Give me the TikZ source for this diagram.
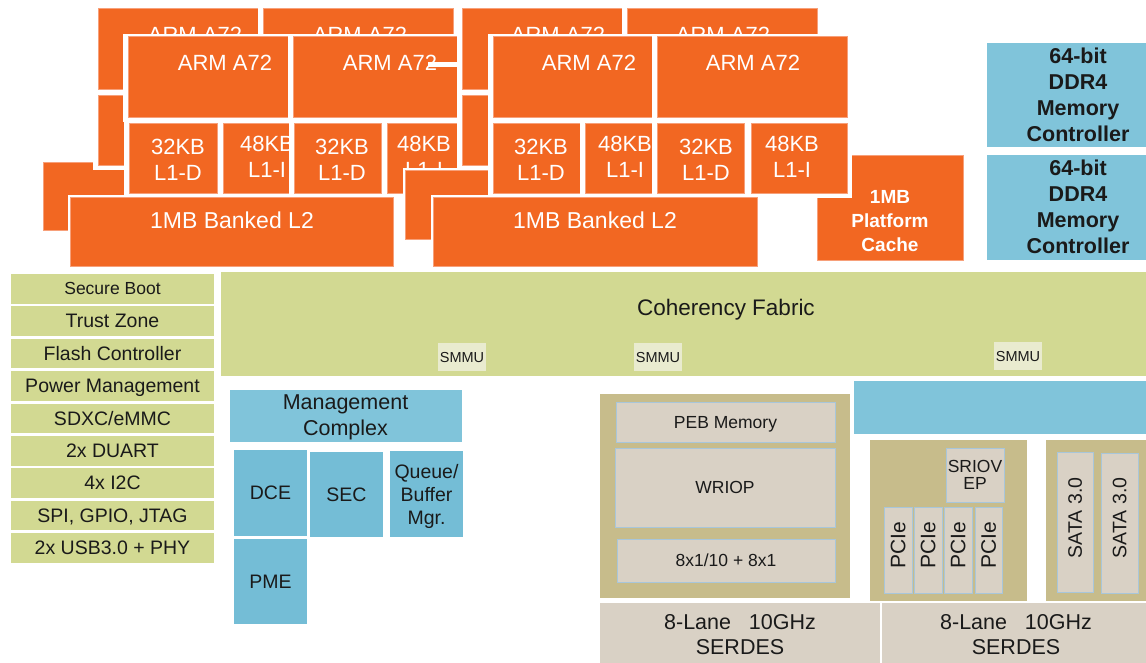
\documentclass[tikz,border=0pt]{standalone}
\usepackage{fontspec}
\setmainfont{Liberation Sans}
\definecolor{org}{HTML}{F26722}
\definecolor{orgl}{HTML}{F7A07A}
\definecolor{grn}{HTML}{D2D992}
\definecolor{smmuc}{HTML}{E9EBCF}
\definecolor{blu}{HTML}{80C4DA}
\definecolor{blu2}{HTML}{74BDD6}
\definecolor{tanc}{HTML}{C7BC8B}
\definecolor{gry}{HTML}{D9D1C5}
\definecolor{gryb}{HTML}{A8C6DA}
\definecolor{ink}{HTML}{1A1A1A}
\tikzset{
  obox/.style={rectangle, inner sep=0pt, outer sep=0pt, fill=org, draw=orgl, line width=0.8pt},
  otx/.style={text=white, inner sep=0pt, align=center, text depth=0pt},
  f22/.style={font=\fontsize{22}{26}\selectfont},
  f23/.style={font=\fontsize{23}{27}\selectfont},
  base/.style={rectangle, inner sep=0pt, outer sep=0pt, align=center, text=ink, text depth=0pt},
  gbox/.style={base, fill=grn, font=\fontsize{19.5}{23}\selectfont},
  smmu/.style={base, fill=smmuc, font=\fontsize{14.5}{17}\selectfont},
  mcbox/.style={base, fill=blu, draw=white, line width=0.8pt, font=\bfseries\fontsize{21.5}{26}\selectfont},
  mgbox/.style={base, fill=blu, draw=white, line width=0.8pt, font=\fontsize{21.5}{26}\selectfont},
  b2box/.style={base, fill=blu2, font=\fontsize{19.5}{23}\selectfont},
  tanbox/.style={base, fill=tanc},
  gybox/.style={base, fill=gry, draw=gryb, line width=0.8pt, font=\fontsize{17.5}{17}\selectfont},
  sdbox/.style={base, fill=gry, font=\fontsize{21.5}{25}\selectfont},
  rtx/.style={base, rotate=90},
}
\newcommand\ob[6][5]{%
  \fill[white] (#3-#1,#4-2) rectangle (#5+#1,#6+#1);
  \node[obox, minimum width={#5-#3}, minimum height={#6-#4}] (#2) at ({(#3+#5)/2},{(#4+#6)/2}) {};
}
\newcommand\bx[7][]{%
  \node[#1, minimum width={#5-#3}, minimum height={#6-#4}] (#2) at ({(#3+#5)/2},{(#4+#6)/2}) {#7};
}
\begin{document}
\begin{tikzpicture}[x=1pt,y=-1pt]
\clip (0,0) rectangle (1146,662);
\useasboundingbox (0,0) rectangle (1146,662);
\fill[white] (0,0) rectangle (1146,662);

% ---------- cluster 1, back layer
\ob{c1bA1}{98}{8}{288}{89}   \node[otx,f22] (c1bA1t) at (195,35) {ARM A72};
\ob{c1bA2}{263}{8}{453}{89}  \node[otx,f22] (c1bA2t) at (360,35) {ARM A72};
\ob[2]{c1bL2}{43}{162}{366}{230}
\ob{c1bD1}{98}{95}{185}{165}
% ---------- cluster 1, front layer
\ob{c1fA1}{128}{36}{318}{117} \node[otx,f22] (c1fA1t) at (225,63) {ARM A72};
\ob{c1fA2}{293}{36}{483}{117} \node[otx,f22] (c1fA2t) at (390,63) {ARM A72};
\ob{c1fD1}{129}{123}{217}{193} \node[otx,f22] (c1fD1t) at (178,159.5) {32KB\\L1-D};
\ob{c1fI1}{223}{123}{311}{193} \node[otx,f22] (c1fI1t) at (267,157) {48KB\\L1-I};
\ob{c1fD2}{294}{123}{381}{193} \node[otx,f22] (c1fD2t) at (342,159.5) {32KB\\L1-D};
\ob{c1fI2}{387}{123}{475}{193} \node[otx,f22] (c1fI2t) at (424,157) {48KB\\L1-I};
\ob[2]{c1fL2}{70}{197}{393}{266} \node[otx,f23] (c1fL2t) at (232,220) {1MB Banked L2};
\node[fill=white, inner sep=0pt, minimum width=29, minimum height=4.5] (art) at (442.5,64.5) {};
% ---------- platform cache
\ob{pc}{817}{155}{963}{260}
\node[otx, font=\bfseries\fontsize{19}{24}\selectfont] (pct) at (890,221) {1MB\\Platform\\Cache};
% ---------- cluster 2, back layer
\ob{c2bA1}{462}{8}{652}{89}  \node[otx,f22] (c2bA1t) at (558,35) {ARM A72};
\ob{c2bA2}{627}{8}{817}{89}  \node[otx,f22] (c2bA2t) at (723,35) {ARM A72};
\ob[2]{c2bL2}{405}{170}{728}{239}
\ob{c2bD1}{462}{95}{549}{165}
% ---------- cluster 2, front layer
\ob{c2fA1}{493}{36}{683}{117} \node[otx,f22] (c2fA1t) at (589,63) {ARM A72};
\ob{c2fA2}{657}{36}{847}{117} \node[otx,f22] (c2fA2t) at (753,63) {ARM A72};
\ob{c2fD1}{493}{123}{580}{193} \node[otx,f22] (c2fD1t) at (541,159.5) {32KB\\L1-D};
\ob{c2fI1}{585}{123}{673}{193} \node[otx,f22] (c2fI1t) at (625,157) {48KB\\L1-I};
\ob{c2fD2}{657}{123}{744}{193} \node[otx,f22] (c2fD2t) at (706,159.5) {32KB\\L1-D};
\ob{c2fI2}{751}{123}{847}{193} \node[otx,f22] (c2fI2t) at (792,157) {48KB\\L1-I};
\ob[2]{c2fL2}{433}{197}{757}{266} \node[otx,f23] (c2fL2t) at (595,220) {1MB Banked L2};

% ---------- memory controllers
\bx[mcbox]{mc1}{986}{42}{1170}{147}{64-bit\\DDR4\\Memory\\Controller}
\bx[mcbox]{mc2}{986}{154}{1170}{260}{64-bit\\DDR4\\Memory\\Controller}

% ---------- left column
\bx[gbox, font=\fontsize{17.5}{20}\selectfont]{g1}{11}{274}{214}{303.5}{Secure Boot}
\bx[gbox]{g2}{11}{306.4}{214}{335.9}{Trust Zone}
\bx[gbox]{g3}{11}{338.8}{214}{368.3}{Flash Controller}
\bx[gbox]{g4}{11}{371.2}{214}{400.7}{Power Management}
\bx[gbox]{g5}{11}{403.6}{214}{433.1}{SDXC/eMMC}
\bx[gbox]{g6}{11}{436}{214}{465.5}{2x DUART}
\bx[gbox]{g7}{11}{468.4}{214}{497.9}{4x I2C}
\bx[gbox]{g8}{11}{500.8}{214}{530.3}{SPI, GPIO, JTAG}
\bx[gbox]{g9}{11}{533.2}{214}{562.7}{2x USB3.0 + PHY}

% ---------- coherency fabric
\bx[gbox]{cf}{221}{272}{1150}{376}{}
\node[base, font=\fontsize{22.5}{26}\selectfont] (cft) at (726,307) {Coherency Fabric};
\bx[smmu]{s1}{438}{343}{486}{371}{SMMU}
\bx[smmu]{s2}{634}{343}{682}{371}{SMMU}
\bx[smmu]{s3}{994}{342}{1042}{370}{SMMU}

% ---------- management complex
\bx[mgbox]{mgmt}{229}{389}{462}{442}{Management\\Complex}
\bx[b2box]{dce}{234}{450}{307}{536}{DCE}
\bx[b2box]{sec}{310}{452}{383}{537}{SEC}
\bx[b2box]{qbm}{390}{451}{463}{537}{Queue/\\Buffer\\Mgr.}
\bx[b2box]{pme}{234}{539}{307}{624}{PME}

% ---------- networking / IO
\bx[mgbox]{bar}{853}{380}{1150}{434}{}
\bx[tanbox]{t1}{600}{394}{850}{598}{}
\bx[gybox]{peb}{616}{402}{835}{442}{PEB Memory}
\bx[gybox]{wriop}{615}{448}{835}{527}{WRIOP}
\bx[gybox]{eth}{617}{539}{835}{582}{8x1/10 + 8x1}
\bx[tanbox]{t2}{870}{440}{1027}{601}{}
\bx[gybox]{sriov}{946}{448}{1004}{502}{SRIOV\\EP}
\bx[gybox]{p1}{884}{507}{912}{593}{}
\bx[gybox]{p2}{914}{507}{942}{593}{}
\bx[gybox]{p3}{944}{507}{972}{593}{}
\bx[gybox]{p4}{975}{507}{1002}{593}{}
\node[rtx, font=\fontsize{21}{24}\selectfont] (p1t) at (898,545) {PCIe};
\node[rtx, font=\fontsize{21}{24}\selectfont] (p2t) at (928,545) {PCIe};
\node[rtx, font=\fontsize{21}{24}\selectfont] (p3t) at (958,545) {PCIe};
\node[rtx, font=\fontsize{21}{24}\selectfont] (p4t) at (988.5,545) {PCIe};
\bx[tanbox]{t3}{1046}{440}{1150}{601}{}
\bx[gybox]{sa1}{1057}{452}{1093}{592}{}
\bx[gybox]{sa2}{1101}{453}{1138}{593}{}
\node[rtx, font=\fontsize{19.5}{23}\selectfont] (sa1t) at (1075,518) {SATA 3.0};
\node[rtx, font=\fontsize{19.5}{23}\selectfont] (sa2t) at (1119.5,518) {SATA 3.0};
\bx[sdbox]{sd1}{600}{603}{880}{666}{8-Lane\hspace{0.55em} 10GHz\\SERDES}
\bx[sdbox]{sd2}{882}{603}{1150}{666}{8-Lane\hspace{0.55em} 10GHz\\SERDES}
\end{tikzpicture}
\end{document}
